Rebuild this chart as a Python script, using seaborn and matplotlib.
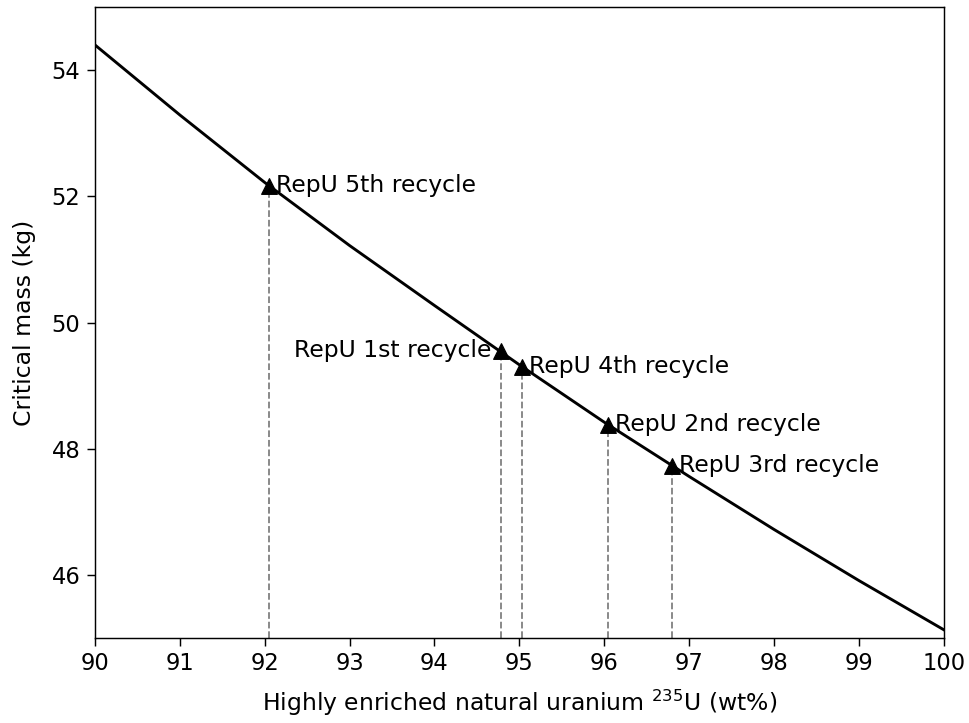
import matplotlib
matplotlib.use("Agg")
import matplotlib.pyplot as plt
import seaborn as sns
import pandas as pd

# Critical mass curve vs. 235U enrichment
enrichment = [90, 91, 92, 93, 94, 95, 96, 97, 98, 99, 100]
critical_mass = [54.40, 53.29, 52.22, 51.22, 50.27, 49.33, 48.42, 47.56, 46.72, 45.91, 45.13]

# Reprocessed uranium recycles
recycle_labels = ["RepU 1st recycle", "RepU 2nd recycle", "RepU 3rd recycle",
                  "RepU 4th recycle", "RepU 5th recycle"]
recycle_enrichment = [94.78, 96.04, 96.80, 95.03, 92.05]
recycle_mass = [49.55, 48.38, 47.73, 49.30, 52.17]

curve = pd.DataFrame({"x": enrichment, "y": critical_mass})
points = pd.DataFrame({"x": recycle_enrichment, "y": recycle_mass, "label": recycle_labels})

plt.rcParams.update({
    "font.size": 13,
    "xtick.major.size": 4.5,
    "ytick.major.size": 4.5,
})

fig = plt.figure(figsize=(969 / 130, 723 / 130), dpi=130)
ax = fig.add_axes([0.098, 0.1176, 0.876, 0.8726])

ax.set_xlim(90, 100)
ax.set_ylim(45.0, 55.0)

for x, y in zip(points["x"], points["y"]):
    ax.plot([x, x], [45.0, y], linestyle="--", color="gray", linewidth=1.0, zorder=1)

sns.lineplot(data=curve, x="x", y="y", ax=ax, color="black", linewidth=1.6, zorder=2)
sns.scatterplot(data=points, x="x", y="y", ax=ax, marker="^", color="black",
                s=75, edgecolor="black", zorder=3)

for x, y, lab in zip(points["x"], points["y"], points["label"]):
    if lab == "RepU 1st recycle":
        ax.annotate(lab, (x, y), xytext=(-5, 0), textcoords="offset points",
                    ha="right", va="center", fontsize=13)
    else:
        ax.annotate(lab, (x, y), xytext=(4, 0), textcoords="offset points",
                    ha="left", va="center", fontsize=13)

ax.set_xticks(range(90, 101))
ax.set_yticks([46, 48, 50, 52, 54])
ax.tick_params(labelsize=12.5)
ax.set_xlabel(r"Highly enriched natural uranium $^{235}$U (wt%)", fontsize=13, labelpad=7)
ax.set_ylabel("Critical mass (kg)", fontsize=13, labelpad=9)

fig.savefig("out.png", dpi=130)
